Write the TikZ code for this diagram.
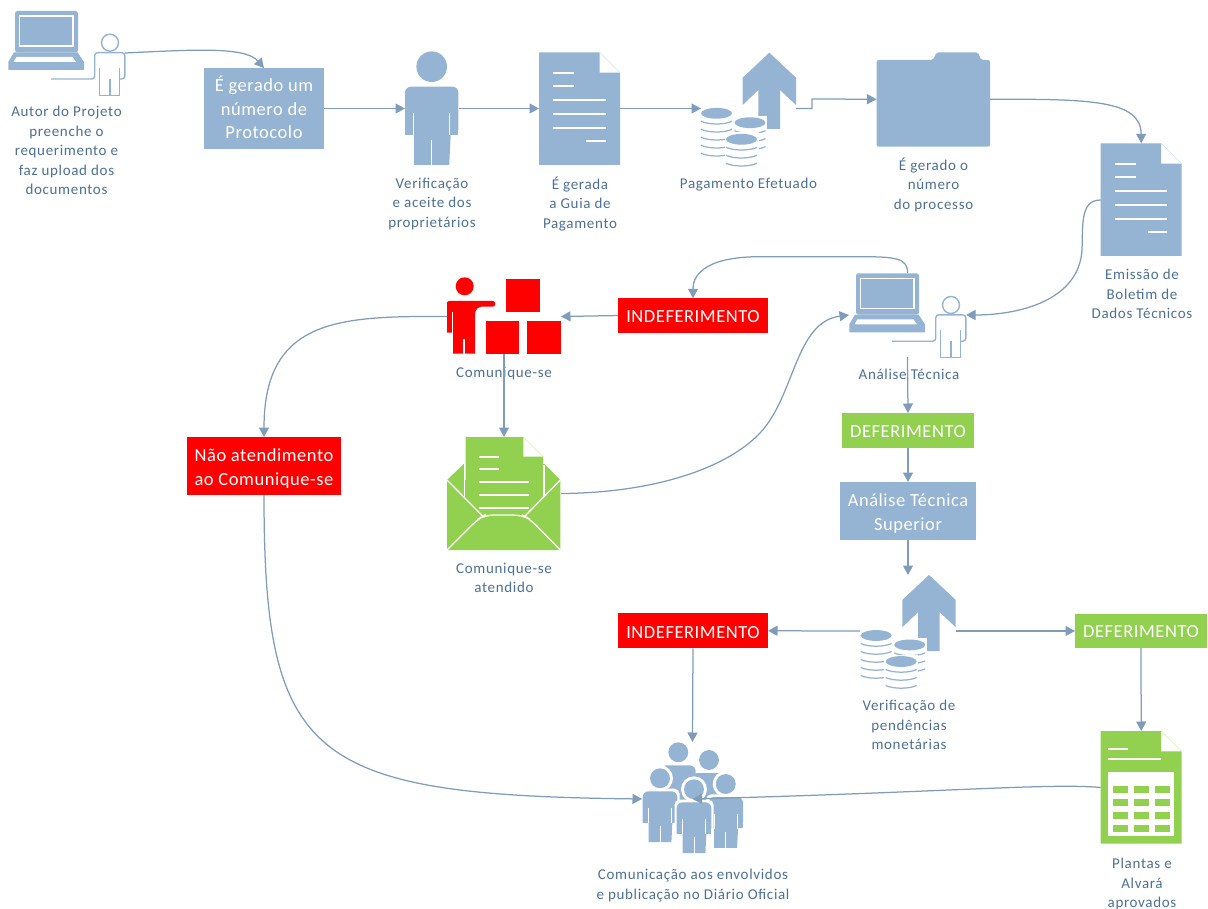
\documentclass[tikz,border=0pt]{standalone}
\usepackage{fontspec}
\setmainfont{Carlito}
\newfontfamily\labfont[LetterSpace=4.5]{Carlito}
\newfontfamily\boxfont[LetterSpace=3]{Carlito}
\usetikzlibrary{arrows.meta}
\definecolor{iconblue}{HTML}{95B3D2}
\definecolor{linkblue}{HTML}{7F9DBA}
\definecolor{labelblue}{HTML}{4C7096}
\definecolor{okgreen}{HTML}{92D050}
\definecolor{badred}{HTML}{FF0000}
\definecolor{palegreen}{HTML}{D5EDB5}
\definecolor{paleblue}{HTML}{D3E0EC}
\newcommand{\tallline}[1]{\rule{0pt}{#1pt}}
\newcommand{\deepline}[1]{\rule[-#1pt]{0pt}{#1pt}}
\tikzset{
  box/.style={anchor=north west,inner sep=0pt,outer sep=0pt,text=white,align=center,font=\boxfont\fontsize{18.5}{23.5}\selectfont},
  bluebox/.style={box,fill=iconblue},
  redbox/.style={box,fill=badred},
  greenbox/.style={box,fill=okgreen},
  iconbox/.style={anchor=north west,inner sep=0pt,outer sep=0pt},
  lab/.style={text=labelblue,align=center,inner sep=0pt,font=\labfont\fontsize{15}{19.5}\selectfont},
  link/.style={draw=linkblue,line width=1.25pt,-{Triangle[length=9.5pt,width=10pt]}},
  thinline/.style={line width=1.4pt}
}
% icons -----------------------------------------------------------------
\newcommand{\sheetshape}[4]{% x y fill pale
  \begin{scope}[shift={(#1,#2)}]
    \fill[#3] (0,0) -- (60.5,0) -- (60.5,20.4) -- (81,20.4) -- (81,112.7) -- (0,112.7) -- cycle;
    \draw[#4,line width=.6pt] (60.5,0) -- (81,20.4);
  \end{scope}}
\newcommand{\textsheet}[2]{%
  \sheetshape{#1}{#2}{iconblue}{paleblue}
  \begin{scope}[shift={(#1,#2)},white,line width=2pt]
    \draw (14.3,20.3) -- (35.3,20.3);
    \draw (14.3,34) -- (35.3,34);
    \draw (14.3,48) -- (66.7,48);
    \draw (14.3,61.7) -- (66.7,61.7);
    \draw (14.3,75.3) -- (66.7,75.3);
    \draw (47.3,89) -- (66.7,89);
  \end{scope}}
\newcommand{\laptopuser}[2]{%
  \begin{scope}[shift={(#1,#2)}]
    \fill[iconblue,rounded corners=2.5pt] (15,52.4) -- (15,11) -- (78,11) -- (78,52.4) -- cycle;
    \draw[white,line width=1.3pt] (19.5,16) rectangle (73,46);
    \fill[iconblue] (14,52.3) -- (77.5,52.3) -- (84,62) -- (84,70) -- (8.3,70) -- (8.3,62) -- cycle;
    \fill[white] (16.5,57) -- (72.5,57) -- (76,62) -- (13.5,62) -- cycle;
    \draw[iconblue,thinline] (110,42.7) circle (8.5);
    \draw[iconblue,thinline,rounded corners=3pt] (51,79) -- (94.7,79) -- (94.7,52.6) -- (124.8,52.6) -- (124.8,79) -- (119.5,79);
    \draw[iconblue,thinline] (99.5,68) -- (99.5,95.3) -- (119.5,95.3) -- (119.5,68);
    \draw[iconblue,thinline] (110,79) -- (110,95.3);
  \end{scope}}
\newcommand{\coinstack}[4]{% cx topy height background
  \begin{scope}[shift={(#1,#2)}]
    \ifnum#4=1 \fill[white] (-17,-7) rectangle (17,#3+3); \fi
    \fill[iconblue] (0,0) ellipse (15.5 and 5.4);
    \foreach \yy in {8,16,24,32,40}{
      \ifdim\yy pt<#3pt
      \draw[iconblue,line width=1.25pt] (-15.5,\yy) .. controls (-8,\yy+3.6) and (8,\yy+3.6) .. (15.5,\yy);
      \fi}
  \end{scope}}
\newcommand{\paycoins}[2]{%
  \begin{scope}[shift={(#1,#2)}]
    \fill[iconblue] (769.3,52.7) -- (796,77.7) -- (796,105) -- (780,90) -- (780,129) -- (758.3,129) -- (758.3,90) -- (742.7,105) -- (742.7,77.7) -- cycle;
    \coinstack{716.5}{113.3}{44}{0}
    \coinstack{750}{122.7}{30}{1}
    \coinstack{741.5}{139.3}{26}{1}
  \end{scope}}
\newcommand{\personsolid}[4]{% cx heady scale halo
  \begin{scope}[shift={(#1,#2)},scale=#3]
    \ifnum#4=1
    \fill[white] (0,0) circle (20);
    \fill[white,rounded corners=5pt] (-30,16) rectangle (30,72);
    \fill[white] (-21,72) rectangle (21,102);
    \fi
    \fill[iconblue] (0,0) circle (15.3);
    \fill[iconblue,rounded corners=6pt] (-26.7,68.3) -- (-26.7,20) -- (26.7,20) -- (26.7,68.3) [sharp corners] -- (19,68.3) -- (17.5,98.3) -- (-17.5,98.3) -- (-17.5,68.3) -- cycle;
    \fill[iconblue] (-26.7,40) rectangle (26.7,68.3);
    \fill[iconblue] (-17.5,60) rectangle (17.5,98.3);
    \draw[white,line width=.9pt] (0,73.5) -- (0,98.8);
    \draw[white,line width=.9pt] (-18,46) -- (-18,68.8);
    \draw[white,line width=.9pt] (18,46) -- (18,68.8);
  \end{scope}}
\begin{document}
\begin{tikzpicture}[x=1pt,y=-1pt]
\useasboundingbox (0,0) rectangle (1208,909);
% ---- icon artwork
\laptopuser{0}{0}
\personsolid{431.7}{66.7}{1}{0}
\textsheet{539}{52.3}
\paycoins{0}{0}
\fill[iconblue,rounded corners=2pt] (876.7,146.7) -- (876.7,60) -- (933,60) -- (936.7,52.3) -- (978,52.3) -- (981,60) -- (990,60) -- (990,146.7) -- cycle;
\textsheet{1100.7}{143.3}
\laptopuser{841}{262.3}
% red person and boxes
\fill[badred] (464.7,286.3) circle (9);
\fill[badred,rounded corners=2pt] (447,332.7) -- (447,301) -- (495,301) -- (495,306.7) -- (479,306.7) [rounded corners=3pt] -- (475,311) [sharp corners] -- (475,353.7) -- (453,353.7) -- (453,332.7) -- cycle;
\fill[white] (451.6,312) rectangle (452.9,333);
\fill[white] (463,339) rectangle (464.6,354);
\fill[badred] (506.3,279.3) rectangle (539.7,312);
\fill[badred] (485.7,321) rectangle (518.7,353.7);
\fill[badred] (527.3,321) rectangle (560.7,353.7);
% envelope
\fill[okgreen] (447,480) -- (463.7,464) -- (544.3,464) -- (560.3,480) -- (560.3,550) -- (447,550) -- cycle;
\fill[white] (465,437) rectangle (543,480);
\fill[okgreen] (465.5,437) -- (523.3,437) -- (523.3,456.7) -- (543,456.7) -- (543,512) -- (465.5,512) -- cycle;
\draw[palegreen,line width=.6pt] (523.3,437) -- (543,456.7);
\draw[white,line width=1.3pt] (464.2,464) -- (464.2,497);
\draw[white,line width=1.3pt] (544,465) -- (544,497);
\begin{scope}[white,line width=1.8pt]
  \draw (479,456.7) -- (498.7,456.7);
  \draw (479,469.3) -- (498.7,469.3);
  \draw (479,482) -- (529,482);
  \draw (479,495) -- (529,495);
  \draw (479,507.7) -- (529,507.7);
\end{scope}
\draw[white,line width=1.3pt] (447,480) -- (483.3,516.7);
\draw[white,line width=1.3pt] (560.3,480) -- (524.3,516.7);
\fill[okgreen] (483.3,516.7) -- (524.3,516.7) -- (532,525) -- (475,525) -- cycle;
\draw[white,line width=1.3pt,rounded corners=9pt] (447,550) -- (478,519) -- (485,515) -- (522,515) -- (530,519) -- (560.3,550);
% coins 2
\paycoins{159.7}{522.2}
% group
\personsolid{678.3}{752.3}{.65}{0}
\personsolid{709}{760}{.65}{0}
\personsolid{660}{778.3}{.65}{1}
\personsolid{725.7}{784}{.65}{1}
\personsolid{694}{789.3}{.65}{1}
% table sheet
\sheetshape{1100.7}{731}{okgreen}{palegreen}
\begin{scope}[white,line width=1.8pt]
  \draw (1108.3,749) -- (1127.7,749);
  \draw (1108.3,759.3) -- (1161,759.3);
\end{scope}
\fill[white] (1108.3,771.7) rectangle (1174,836);
\foreach \yy in {785.7,799,812,825}{
  \foreach \xx in {1112.7,1133.7,1154.7}{
    \fill[okgreen] (\xx,\yy) rectangle ++(15.3,6.8);
  }}
% ---- nodes: icon areas
\node[iconbox,minimum width=117pt,minimum height=84pt] (autor) at (8,11) {};
\node[iconbox,minimum width=53.5pt,minimum height=113pt] (verif) at (405,52) {};
\node[iconbox,minimum width=81pt,minimum height=113pt] (guia) at (539,52) {};
\node[iconbox,minimum width=95pt,minimum height=113pt] (pag) at (701,52) {};
\node[iconbox,minimum width=113.5pt,minimum height=94.5pt] (pasta) at (876.5,52) {};
\node[iconbox,minimum width=81pt,minimum height=113.4pt] (boletim) at (1100.7,143.3) {};
\node[iconbox,minimum width=117pt,minimum height=84pt] (analise) at (849,273) {};
\node[iconbox,minimum width=114pt,minimum height=75pt] (comunique) at (447,279) {};
\node[iconbox,minimum width=114pt,minimum height=113pt] (atendido) at (447,437) {};
\node[iconbox,minimum width=96pt,minimum height=112pt] (verifpend) at (860,575) {};
\node[iconbox,minimum width=101pt,minimum height=114pt] (grupo) at (642,742) {};
\node[iconbox,minimum width=81pt,minimum height=113pt] (plantas) at (1100.7,731) {};
% ---- boxes
\node[bluebox,minimum width=120pt,minimum height=81pt] (protocolo) at (204,68) {É gerado um\\número de\\Protocolo\deepline{2}};
\node[redbox,minimum width=150pt,minimum height=34.5pt] (indef) at (618,298.3) {\tallline{14}INDEFERIMENTO};
\node[greenbox,minimum width=132pt,minimum height=35pt] (def) at (842,413) {\tallline{14}DEFERIMENTO};
\node[bluebox,minimum width=136pt,minimum height=58pt] (superior) at (840,482) {\tallline{17.5}Análise Técnica\\Superior};
\node[redbox,minimum width=154pt,minimum height=58pt] (naoatend) at (187,437) {\tallline{17.5}Não atendimento\\ao Comunique-se};
\node[redbox,minimum width=150pt,minimum height=35pt] (indefb) at (618,613.3) {\tallline{15}INDEFERIMENTO};
\node[greenbox,minimum width=132pt,minimum height=34pt] (defb) at (1075,614) {\tallline{14}DEFERIMENTO};
% ---- labels
\node[lab] (l1) at (66.5,150.5) {Autor do Projeto\\preenche o\\requerimento e\\faz upload dos\\documentos};
\node[lab] (l2) at (432,204) {Verificação\\e aceite dos\\proprietários};
\node[lab] (l3) at (580,204) {É gerada\\a Guia de\\Pagamento};
\node[lab] (l4) at (748.5,184.5) {Pagamento Efetuado};
\node[lab] (l5) at (933.5,184.5) {É gerado o\\número\\do processo};
\node[lab] (l6) at (1142,294) {Emissão de\\Boletim de\\Dados Técnicos};
\node[lab] (l7) at (909,374) {Análise Técnica};
\node[lab] (l8) at (504,374) {Comunique-se};
\node[lab] (l9) at (504,578) {Comunique-se\\atendido};
\node[lab] (l10) at (909,725) {Verificação de\\pendências\\monetárias};
\node[lab] (l11) at (693,885.5) {Comunicação aos envolvidos\\e publicação no Diário Oficial};
\node[lab] (l12) at (1142,884) {Plantas e\\Alvará\\aprovados};
% ---- connectors
\draw[link] (autor.east) .. controls (190,50) and (245,46) .. (protocolo.north);
\draw[link] (protocolo.east) -- (verif.west);
\draw[link] (verif.east) -- (guia.west);
\draw[link] (guia.east) -- (pag.west);
\draw[link] (pag.east) -- (812,108.5) -- (812,99) -- (pasta.west);
\draw[link] (pasta.east) .. controls (1090,99) and (1141,100) .. (boletim.north);
\draw[link] (boletim.west) .. controls (1080,200) and (1083,225) .. (1082,250) .. controls (1079,300) and (1020,315) .. (analise.east);
\draw[link] (analise.north) .. controls (908,258) and (895,256.7) .. (860,256.7) -- (760,256.7) .. controls (710,256.7) and (693,272) .. (indef.north);
\draw[link] (indef.west) -- (comunique.east);
\draw[link] (comunique.west) .. controls (340,316) and (264,318) .. (naoatend.north);
\draw[link] (comunique.south) -- (atendido.north);
\draw[link] (atendido.east) .. controls (650,493) and (725,470) .. (760,433) .. controls (795,396) and (795,322) .. (analise.west);
\draw[link] (analise.south) -- (def.north);
\draw[link] (def.south) -- (superior.north);
\draw[link] (superior.south) -- (verifpend.north);
\draw[link] (verifpend.west) -- (indefb.east);
\draw[link] (verifpend.east) -- (defb.west);
\draw[link] (defb.south) -- (plantas.north);
\draw[link] (indefb.south) -- (grupo.north);
\draw[link] (naoatend.south) .. controls (264,760) and (310,795) .. (grupo.west);
\draw[link] (plantas.west) .. controls (1050,783) and (950,792) .. (grupo.center);
\end{tikzpicture}
\end{document}
